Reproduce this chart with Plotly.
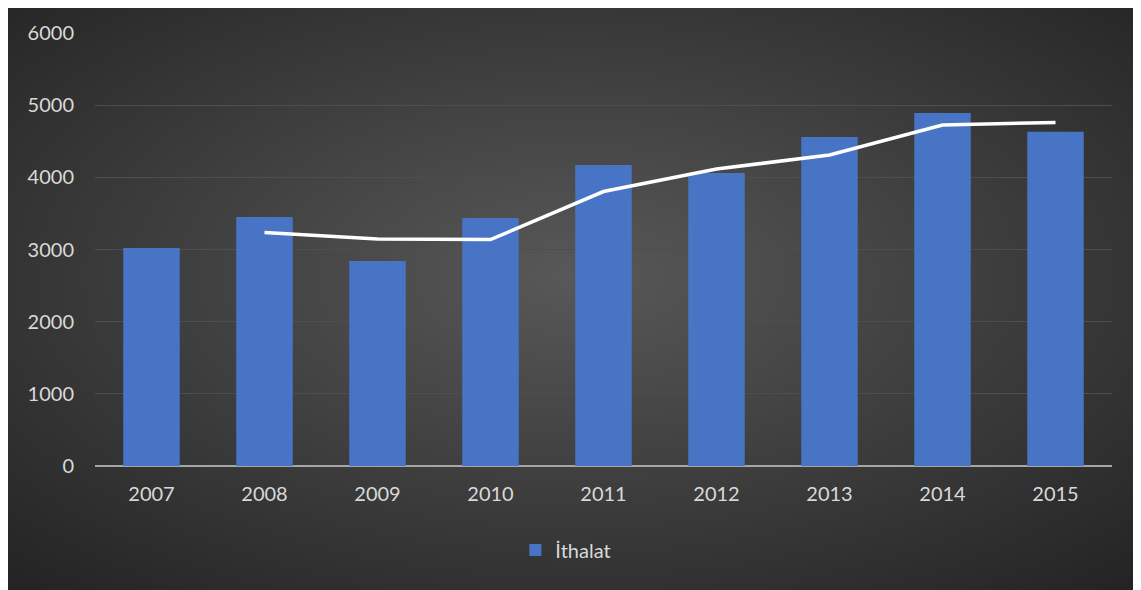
import base64
import plotly.graph_objects as go

years = ["2007", "2008", "2009", "2010", "2011", "2012", "2013", "2014", "2015"]
ithalat = [3020, 3450, 2840, 3435, 4170, 4060, 4560, 4890, 4630]
# 2-period moving average trendline
trend_years = ["2008", "2009", "2010", "2011", "2012", "2013", "2014", "2015"]
trend_vals = [3235, 3145, 3137, 3803, 4115, 4310, 4725, 4760]

# radial dark background (Excel style chart area)
_svg = (
    "<svg xmlns='http://www.w3.org/2000/svg' width='1133' height='582' preserveAspectRatio='none'>"
    "<defs><radialGradient id='g' cx='50%' cy='46%' r='72%'>"
    "<stop offset='0' stop-color='#585858'/><stop offset='1' stop-color='#242424'/>"
    "</radialGradient></defs><rect width='100%' height='100%' fill='url(#g)'/></svg>"
)
bg_src = "data:image/svg+xml;base64," + base64.b64encode(_svg.encode()).decode()

fig = go.Figure()
fig.add_trace(go.Bar(
    x=years, y=ithalat, name="İthalat",
    marker=dict(color="#4874c6", line=dict(width=0)),
))
fig.add_trace(go.Scatter(
    x=trend_years, y=trend_vals, mode="lines",
    line=dict(color="white", width=3.5), showlegend=False, hoverinfo="skip",
))

fig.update_layout(
    width=1133, height=582,
    margin=dict(l=87, r=29, t=25, b=124),
    paper_bgcolor="#2a2a2a",
    plot_bgcolor="rgba(0,0,0,0)",
    font=dict(family="Lato, 'Open Sans', sans-serif", size=20, color="#d9d9d9"),
    bargap=0.5,
    showlegend=True,
    legend=dict(orientation="h", x=0.463, xanchor="center", y=-0.194, yanchor="middle",
                font=dict(size=20, color="#d9d9d9"), bgcolor="rgba(0,0,0,0)"),
    xaxis=dict(showgrid=False, showline=False, ticks="", ticklabelstandoff=14,
               tickfont=dict(size=20, color="#d9d9d9")),
    yaxis=dict(range=[0, 6000], dtick=1000, showgrid=True, gridcolor="#4e4e4e", gridwidth=1.3,
               zeroline=True, zerolinecolor="#a6a6a6", zerolinewidth=2,
               ticks="", ticklabelstandoff=20, tickfont=dict(size=20, color="#d9d9d9")),
    images=[dict(source=bg_src, xref="paper", yref="paper", x=-0.08555, y=1.05774,
                 sizex=1.11406, sizey=1.34411, sizing="stretch", layer="below",
                 xanchor="left", yanchor="top")],
)

fig.write_html("out.html")
